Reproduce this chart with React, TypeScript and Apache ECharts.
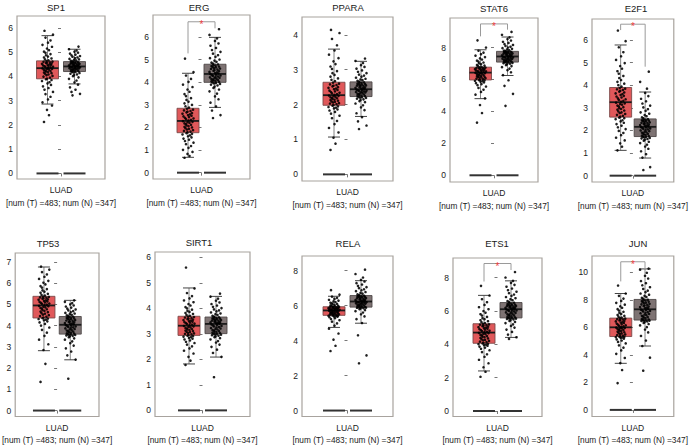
import React, { useEffect, useRef } from 'react';
import * as echarts from 'echarts';

// ---------- data ----------
const GENES = ['SP1', 'ERG', 'PPARA', 'STAT6', 'E2F1', 'TP53', 'SIRT1', 'RELA', 'ETS1', 'JUN'];
const GROUP_LABEL = 'LUAD';
const COUNT_LABEL = '[num (T) =483; num (N) =347]';

// [whisker low, Q1, median, Q3, whisker high]
const TUMOR_BOX = [
  [2.86, 3.9, 4.34, 4.64, 5.68],
  [0.68, 1.77, 2.29, 2.85, 4.4],
  [1.07, 1.98, 2.27, 2.64, 3.59],
  [4.8, 5.97, 6.43, 6.77, 7.86],
  [1.12, 2.59, 3.25, 3.9, 5.78],
  [2.82, 4.36, 4.95, 5.38, 6.76],
  [1.82, 2.94, 3.32, 3.69, 4.8],
  [4.75, 5.44, 5.72, 5.93, 6.53],
  [2.4, 4.06, 4.7, 5.23, 6.93],
  [3.39, 5.34, 6.01, 6.68, 8.47],
];
const NORMAL_BOX = [
  [3.69, 4.2, 4.41, 4.61, 5.12],
  [2.89, 4.0, 4.37, 4.8, 5.99],
  [1.66, 2.23, 2.44, 2.65, 3.24],
  [6.25, 7.09, 7.44, 7.76, 8.66],
  [0.78, 1.73, 2.16, 2.51, 3.7],
  [2.39, 3.6, 4.04, 4.43, 5.19],
  [2.09, 3.01, 3.39, 3.66, 4.47],
  [4.99, 5.91, 6.23, 6.57, 7.42],
  [4.41, 5.58, 6.1, 6.5, 7.8],
  [4.65, 6.54, 7.32, 8.04, 10.26],
];
const ZERO_BAR = [0, 0];

const SP1_T = [2.12, 2.4, 2.62, 2.8, 2.93, 3.05, 3.16, 3.27, 3.36, 3.45, 3.52, 3.59, 3.65, 3.71, 3.76, 3.81, 3.85, 3.88,
  3.91, 3.95, 3.99, 4.02, 4.05, 4.08, 4.11, 4.13, 4.16, 4.18, 4.2, 4.22, 4.24, 4.26, 4.28, 4.3, 4.31, 4.33,
  4.35, 4.37, 4.38, 4.4, 4.42, 4.43, 4.45, 4.47, 4.48, 4.5, 4.52, 4.53, 4.55, 4.57, 4.58, 4.6, 4.61, 4.63,
  4.66, 4.7, 4.74, 4.78, 4.82, 4.87, 4.92, 4.97, 5.02, 5.08, 5.15, 5.22, 5.3, 5.39, 5.48, 5.6, 5.72, 5.88];
const SP1_N = [3.22, 3.28, 3.36, 3.45, 3.55, 3.66, 3.75, 3.83, 3.9, 3.96, 4.01, 4.05, 4.08, 4.11, 4.14, 4.16, 4.18, 4.19,
  4.21, 4.22, 4.24, 4.25, 4.27, 4.28, 4.29, 4.31, 4.32, 4.33, 4.34, 4.35, 4.36, 4.37, 4.38, 4.39, 4.4, 4.4,
  4.42, 4.43, 4.44, 4.45, 4.46, 4.47, 4.48, 4.5, 4.51, 4.52, 4.53, 4.54, 4.55, 4.56, 4.57, 4.58, 4.59, 4.6,
  4.62, 4.64, 4.66, 4.68, 4.7, 4.72, 4.75, 4.78, 4.81, 4.84, 4.87, 4.9, 4.94, 4.98, 5.02, 5.07, 5.12, 5.23];
const ERG_T = [0.66, 0.74, 0.83, 0.92, 1.01, 1.1, 1.18, 1.26, 1.33, 1.4, 1.46, 1.51, 1.56, 1.61, 1.65, 1.69, 1.72, 1.75,
  1.79, 1.82, 1.85, 1.88, 1.91, 1.94, 1.97, 2.0, 2.03, 2.06, 2.09, 2.12, 2.15, 2.18, 2.21, 2.23, 2.25, 2.28,
  2.31, 2.34, 2.37, 2.4, 2.43, 2.46, 2.49, 2.52, 2.55, 2.58, 2.61, 2.64, 2.67, 2.7, 2.73, 2.76, 2.79, 2.83,
  2.88, 2.94, 3.0, 3.07, 3.14, 3.22, 3.3, 3.39, 3.48, 3.58, 3.68, 3.79, 3.9, 4.02, 4.15, 4.3, 4.45, 5.05];
const ERG_N = [2.42, 2.55, 2.75, 2.93, 3.1, 3.25, 3.38, 3.5, 3.6, 3.68, 3.75, 3.81, 3.86, 3.9, 3.93, 3.95, 3.97, 3.99,
  4.02, 4.04, 4.06, 4.08, 4.1, 4.12, 4.14, 4.16, 4.18, 4.2, 4.22, 4.24, 4.26, 4.28, 4.3, 4.32, 4.34, 4.36,
  4.39, 4.41, 4.44, 4.46, 4.49, 4.51, 4.54, 4.56, 4.59, 4.61, 4.63, 4.66, 4.68, 4.7, 4.72, 4.74, 4.76, 4.79,
  4.83, 4.87, 4.91, 4.96, 5.01, 5.07, 5.13, 5.2, 5.27, 5.35, 5.43, 5.52, 5.62, 5.72, 5.83, 5.94, 6.1, 6.35];
const PPARA_T = [0.7, 0.88, 1.05, 1.2, 1.33, 1.44, 1.53, 1.61, 1.68, 1.74, 1.79, 1.83, 1.86, 1.89, 1.91, 1.93, 1.95, 1.97,
  1.99, 2.01, 2.03, 2.04, 2.06, 2.08, 2.09, 2.11, 2.13, 2.14, 2.16, 2.18, 2.19, 2.21, 2.22, 2.24, 2.25, 2.26,
  2.28, 2.3, 2.32, 2.34, 2.36, 2.38, 2.4, 2.42, 2.44, 2.46, 2.48, 2.5, 2.52, 2.54, 2.56, 2.58, 2.6, 2.63,
  2.67, 2.71, 2.75, 2.8, 2.85, 2.9, 2.96, 3.02, 3.09, 3.16, 3.24, 3.33, 3.43, 3.55, 3.7, 3.88, 4.05, 4.14];
const PPARA_N = [1.3, 1.4, 1.52, 1.64, 1.75, 1.84, 1.92, 1.98, 2.03, 2.07, 2.1, 2.13, 2.15, 2.17, 2.19, 2.2, 2.21, 2.22,
  2.24, 2.25, 2.26, 2.28, 2.29, 2.3, 2.31, 2.33, 2.34, 2.35, 2.36, 2.37, 2.38, 2.39, 2.4, 2.41, 2.42, 2.43,
  2.45, 2.46, 2.47, 2.48, 2.49, 2.5, 2.52, 2.53, 2.54, 2.55, 2.56, 2.57, 2.58, 2.59, 2.6, 2.62, 2.63, 2.64,
  2.66, 2.68, 2.7, 2.72, 2.74, 2.77, 2.8, 2.83, 2.86, 2.9, 2.94, 2.98, 3.03, 3.08, 3.13, 3.19, 3.25, 3.32];
const STAT6_T = [3.3, 3.9, 4.4, 4.82, 5.05, 5.22, 5.36, 5.47, 5.56, 5.64, 5.71, 5.77, 5.82, 5.86, 5.89, 5.92, 5.94, 5.96,
  5.99, 6.02, 6.05, 6.08, 6.11, 6.13, 6.16, 6.18, 6.21, 6.23, 6.26, 6.28, 6.31, 6.33, 6.36, 6.38, 6.4, 6.42,
  6.45, 6.47, 6.49, 6.51, 6.53, 6.55, 6.57, 6.59, 6.61, 6.63, 6.65, 6.67, 6.69, 6.7, 6.72, 6.73, 6.75, 6.76,
  6.79, 6.83, 6.87, 6.91, 6.96, 7.01, 7.06, 7.12, 7.18, 7.25, 7.32, 7.4, 7.49, 7.58, 7.68, 7.8, 8.0, 8.45];
const STAT6_N = [4.35, 5.1, 5.6, 5.95, 6.27, 6.45, 6.58, 6.68, 6.77, 6.84, 6.9, 6.95, 6.99, 7.02, 7.04, 7.06, 7.07, 7.08,
  7.1, 7.12, 7.14, 7.16, 7.18, 7.2, 7.22, 7.24, 7.26, 7.28, 7.3, 7.32, 7.34, 7.36, 7.38, 7.4, 7.41, 7.43,
  7.45, 7.47, 7.49, 7.51, 7.53, 7.55, 7.57, 7.59, 7.61, 7.63, 7.65, 7.67, 7.68, 7.7, 7.71, 7.73, 7.74, 7.75,
  7.78, 7.81, 7.84, 7.88, 7.92, 7.96, 8.0, 8.05, 8.1, 8.16, 8.22, 8.29, 8.36, 8.44, 8.53, 8.64, 8.8, 8.98];
const E2F1_T = [1.12, 1.28, 1.43, 1.56, 1.68, 1.79, 1.89, 1.98, 2.06, 2.14, 2.21, 2.28, 2.34, 2.4, 2.45, 2.5, 2.54, 2.57,
  2.61, 2.65, 2.69, 2.73, 2.77, 2.8, 2.84, 2.88, 2.92, 2.95, 2.99, 3.03, 3.06, 3.1, 3.14, 3.17, 3.2, 3.23,
  3.27, 3.31, 3.35, 3.38, 3.42, 3.46, 3.5, 3.53, 3.57, 3.61, 3.64, 3.68, 3.72, 3.75, 3.79, 3.82, 3.85, 3.88,
  3.94, 4.0, 4.07, 4.15, 4.23, 4.32, 4.41, 4.51, 4.62, 4.73, 4.85, 4.98, 5.12, 5.28, 5.46, 5.68, 5.95, 6.42];
const E2F1_N = [0.25, 0.38, 0.8, 0.95, 1.08, 1.19, 1.29, 1.37, 1.44, 1.5, 1.55, 1.59, 1.62, 1.65, 1.67, 1.69, 1.71, 1.72,
  1.75, 1.77, 1.8, 1.82, 1.85, 1.87, 1.9, 1.92, 1.95, 1.97, 2.0, 2.02, 2.05, 2.07, 2.09, 2.11, 2.13, 2.15,
  2.18, 2.2, 2.22, 2.24, 2.26, 2.28, 2.3, 2.32, 2.34, 2.36, 2.38, 2.4, 2.42, 2.44, 2.45, 2.47, 2.48, 2.5,
  2.54, 2.58, 2.63, 2.68, 2.74, 2.8, 2.87, 2.94, 3.02, 3.1, 3.19, 3.29, 3.4, 3.52, 3.66, 3.85, 4.15, 4.6];
const TP53_T = [1.35, 2.2, 2.85, 3.12, 3.34, 3.52, 3.67, 3.8, 3.91, 4.0, 4.08, 4.15, 4.2, 4.25, 4.28, 4.31, 4.33, 4.35,
  4.38, 4.42, 4.45, 4.49, 4.52, 4.56, 4.59, 4.63, 4.66, 4.7, 4.73, 4.77, 4.8, 4.83, 4.86, 4.89, 4.91, 4.93,
  4.97, 4.99, 5.02, 5.04, 5.07, 5.09, 5.12, 5.14, 5.17, 5.19, 5.22, 5.24, 5.27, 5.29, 5.31, 5.33, 5.35, 5.37,
  5.41, 5.45, 5.5, 5.55, 5.6, 5.66, 5.72, 5.79, 5.86, 5.94, 6.02, 6.11, 6.2, 6.3, 6.41, 6.52, 6.64, 6.78];
const TP53_N = [1.5, 2.4, 2.6, 2.78, 2.93, 3.06, 3.17, 3.26, 3.34, 3.4, 3.45, 3.49, 3.52, 3.54, 3.56, 3.57, 3.58, 3.59,
  3.62, 3.64, 3.67, 3.69, 3.72, 3.74, 3.77, 3.79, 3.82, 3.84, 3.87, 3.89, 3.92, 3.94, 3.96, 3.98, 4.0, 4.02,
  4.06, 4.08, 4.1, 4.12, 4.15, 4.17, 4.19, 4.21, 4.24, 4.26, 4.28, 4.3, 4.32, 4.34, 4.36, 4.38, 4.4, 4.42,
  4.45, 4.48, 4.51, 4.54, 4.57, 4.6, 4.64, 4.68, 4.72, 4.76, 4.8, 4.85, 4.9, 4.95, 5.0, 5.06, 5.12, 5.19];
const SIRT1_T = [1.78, 1.95, 2.1, 2.23, 2.34, 2.43, 2.51, 2.58, 2.64, 2.69, 2.74, 2.78, 2.81, 2.84, 2.87, 2.89, 2.91, 2.93,
  2.96, 2.98, 3.0, 3.02, 3.04, 3.07, 3.09, 3.11, 3.13, 3.15, 3.17, 3.19, 3.21, 3.23, 3.25, 3.27, 3.29, 3.31,
  3.34, 3.36, 3.38, 3.4, 3.42, 3.44, 3.46, 3.48, 3.5, 3.52, 3.54, 3.56, 3.58, 3.6, 3.62, 3.64, 3.66, 3.68,
  3.71, 3.74, 3.78, 3.82, 3.86, 3.9, 3.95, 4.0, 4.05, 4.11, 4.17, 4.24, 4.31, 4.39, 4.48, 4.6, 4.78, 5.6];
const SIRT1_N = [1.3, 2.1, 2.25, 2.38, 2.49, 2.58, 2.66, 2.72, 2.78, 2.83, 2.87, 2.9, 2.93, 2.95, 2.97, 2.98, 2.99, 3.0,
  3.03, 3.05, 3.07, 3.09, 3.11, 3.13, 3.15, 3.17, 3.19, 3.21, 3.23, 3.25, 3.27, 3.29, 3.31, 3.33, 3.35, 3.37,
  3.4, 3.42, 3.43, 3.45, 3.46, 3.48, 3.49, 3.51, 3.52, 3.54, 3.55, 3.57, 3.58, 3.6, 3.61, 3.62, 3.64, 3.65,
  3.68, 3.71, 3.74, 3.77, 3.8, 3.84, 3.88, 3.92, 3.96, 4.01, 4.06, 4.11, 4.17, 4.23, 4.3, 4.38, 4.46, 4.58];
const RELA_T = [3.4, 3.7, 4.05, 4.4, 4.68, 4.85, 4.98, 5.08, 5.16, 5.23, 5.28, 5.33, 5.36, 5.38, 5.4, 5.41, 5.42, 5.43,
  5.45, 5.47, 5.48, 5.5, 5.51, 5.53, 5.54, 5.56, 5.57, 5.59, 5.6, 5.62, 5.63, 5.65, 5.66, 5.68, 5.69, 5.71,
  5.73, 5.74, 5.75, 5.76, 5.78, 5.79, 5.8, 5.81, 5.83, 5.84, 5.85, 5.86, 5.88, 5.89, 5.9, 5.91, 5.92, 5.93,
  5.95, 5.97, 5.99, 6.01, 6.04, 6.07, 6.1, 6.13, 6.16, 6.2, 6.24, 6.28, 6.33, 6.38, 6.44, 6.51, 6.62, 6.88];
const RELA_N = [2.7, 3.15, 4.3, 5.0, 5.22, 5.38, 5.5, 5.6, 5.68, 5.74, 5.79, 5.83, 5.85, 5.87, 5.88, 5.89, 5.9, 5.9,
  5.93, 5.95, 5.97, 5.99, 6.01, 6.03, 6.05, 6.07, 6.09, 6.11, 6.13, 6.15, 6.16, 6.18, 6.19, 6.2, 6.21, 6.22,
  6.25, 6.27, 6.29, 6.31, 6.33, 6.35, 6.37, 6.39, 6.41, 6.43, 6.45, 6.47, 6.49, 6.5, 6.52, 6.53, 6.55, 6.56,
  6.6, 6.64, 6.68, 6.72, 6.77, 6.82, 6.87, 6.93, 6.99, 7.05, 7.12, 7.2, 7.28, 7.37, 7.47, 7.6, 7.8, 8.05];
const ETS1_T = [2.05, 2.35, 2.62, 2.86, 3.07, 3.25, 3.4, 3.53, 3.64, 3.73, 3.8, 3.86, 3.91, 3.95, 3.98, 4.01, 4.03, 4.05,
  4.09, 4.13, 4.16, 4.2, 4.24, 4.27, 4.31, 4.35, 4.38, 4.42, 4.46, 4.49, 4.53, 4.56, 4.6, 4.63, 4.66, 4.68,
  4.72, 4.75, 4.78, 4.81, 4.84, 4.87, 4.9, 4.93, 4.96, 4.99, 5.02, 5.05, 5.08, 5.11, 5.14, 5.17, 5.19, 5.22,
  5.27, 5.32, 5.38, 5.44, 5.5, 5.57, 5.64, 5.72, 5.8, 5.89, 5.99, 6.1, 6.22, 6.36, 6.52, 6.7, 6.92, 7.5];
const ETS1_N = [4.32, 4.42, 4.58, 4.74, 4.88, 5.0, 5.1, 5.19, 5.27, 5.34, 5.4, 5.45, 5.49, 5.52, 5.54, 5.55, 5.56, 5.57,
  5.61, 5.64, 5.67, 5.7, 5.73, 5.76, 5.79, 5.82, 5.85, 5.88, 5.91, 5.94, 5.97, 6.0, 6.02, 6.04, 6.06, 6.08,
  6.12, 6.14, 6.16, 6.18, 6.2, 6.22, 6.24, 6.26, 6.28, 6.3, 6.32, 6.34, 6.36, 6.38, 6.4, 6.43, 6.46, 6.49,
  6.54, 6.59, 6.64, 6.7, 6.76, 6.83, 6.9, 6.98, 7.06, 7.15, 7.24, 7.34, 7.45, 7.56, 7.68, 7.8, 8.0, 8.33];
const JUN_T = [1.95, 2.9, 3.4, 3.78, 4.08, 4.33, 4.53, 4.7, 4.84, 4.95, 5.05, 5.13, 5.19, 5.24, 5.27, 5.3, 5.32, 5.33,
  5.37, 5.41, 5.45, 5.49, 5.53, 5.57, 5.61, 5.65, 5.69, 5.73, 5.77, 5.81, 5.85, 5.88, 5.92, 5.95, 5.97, 5.99,
  6.04, 6.08, 6.12, 6.16, 6.2, 6.24, 6.28, 6.32, 6.36, 6.4, 6.44, 6.48, 6.51, 6.55, 6.58, 6.61, 6.64, 6.67,
  6.72, 6.78, 6.84, 6.91, 6.98, 7.06, 7.14, 7.23, 7.33, 7.43, 7.54, 7.66, 7.79, 7.93, 8.1, 8.3, 8.47, 9.05];
const JUN_N = [2.85, 3.8, 4.65, 5.05, 5.38, 5.64, 5.85, 6.02, 6.15, 6.25, 6.33, 6.39, 6.44, 6.47, 6.5, 6.51, 6.52, 6.53,
  6.58, 6.62, 6.67, 6.71, 6.76, 6.8, 6.85, 6.89, 6.94, 6.98, 7.03, 7.07, 7.12, 7.16, 7.2, 7.24, 7.27, 7.3,
  7.36, 7.4, 7.44, 7.48, 7.52, 7.56, 7.6, 7.64, 7.68, 7.72, 7.76, 7.8, 7.84, 7.88, 7.92, 7.96, 7.99, 8.02,
  8.09, 8.15, 8.22, 8.3, 8.38, 8.47, 8.57, 8.68, 8.8, 8.93, 9.07, 9.22, 9.38, 9.56, 9.76, 9.98, 10.2, 10.28];

const TUMOR_POINTS = [SP1_T, ERG_T, PPARA_T, STAT6_T, E2F1_T, TP53_T, SIRT1_T, RELA_T, ETS1_T, JUN_T];
const NORMAL_POINTS = [SP1_N, ERG_N, PPARA_N, STAT6_N, E2F1_N, TP53_N, SIRT1_N, RELA_N, ETS1_N, JUN_N];

const Y_TICKS = [
  [0, 1, 2, 3, 4, 5, 6],
  [0, 1, 2, 3, 4, 5, 6],
  [0, 1, 2, 3, 4],
  [0, 2, 4, 6, 8],
  [0, 1, 2, 3, 4, 5, 6],
  [0, 1, 2, 3, 4, 5, 6, 7],
  [0, 1, 2, 3, 4, 5, 6],
  [0, 2, 4, 6, 8],
  [0, 2, 4, 6, 8],
  [0, 2, 4, 6, 8, 10],
];

// significance brackets: [left leg end, right leg end, bar level] (null = none)
const BRACKETS = [
  null,
  [5.28, 6.39, 6.68],
  null,
  [8.7, 9.12, 9.48],
  [6.44, 4.82, 6.7],
  null,
  null,
  null,
  [7.76, 8.45, 8.84],
  [9.35, 10.19, 10.78],
];

// ---------- layout / style ----------
const PANELS = [
  { left: 17, top: 16, width: 88, height: 163, yMin: -0.23, yMax: 6.49, titleX: 56, titleY: 7 },
  { left: 153, top: 15, width: 97, height: 164, yMin: -0.28, yMax: 6.98, titleX: 199, titleY: 7 },
  { left: 302, top: 17, width: 91, height: 164, yMin: -0.19, yMax: 4.51, titleX: 348, titleY: 7 },
  { left: 450, top: 18, width: 88, height: 164, yMin: -0.42, yMax: 9.85, titleX: 494, titleY: 8 },
  { left: 592, top: 19, width: 90, height: 163, yMin: -0.28, yMax: 6.93, titleX: 636, titleY: 8 },
  { left: 13, top: 253, width: 86, height: 164, yMin: -0.28, yMax: 7.42, titleX: 48, titleY: 243 },
  { left: 155, top: 252, width: 95, height: 165, yMin: -0.24, yMax: 6.21, titleX: 199, titleY: 242 },
  { left: 302, top: 256, width: 91, height: 162, yMin: -0.34, yMax: 8.83, titleX: 348, titleY: 243 },
  { left: 453, top: 258, width: 89, height: 162, yMin: -0.33, yMax: 9.17, titleX: 497, titleY: 243 },
  { left: 592, top: 256, width: 91, height: 163, yMin: -0.48, yMax: 11.2, titleX: 638, titleY: 243 },
];
const PX_PER_UNIT = 27; // tumor at -0.5, normal at +0.5
const GROUP_X = [-0.5, 0.5];
const JITTER_PX = [-3.5, 1.5, -0.5, 4.5, -5, 0.5, 3, -2, 5.5, -3, 1, -4.5, 3.5, 0, 2, -5.5, 4, -1.5, -0.5, 2.5, -4, 5, -1, 1, -2.5, 4, -3.5, 0.5, -1.5, 3, -2];
const BOX_COLORS = ['#E0585A', '#7E7373'];
const BOX_BORDER = ['#7a4a4a', '#4f4848'];
const FONT = '"Liberation Sans", Arial, Helvetica, sans-serif';
const TEXT_COLOR = '#1a1a1a';

function buildOption() {
  const grid: any[] = [];
  const xAxis: any[] = [];
  const yAxis: any[] = [];
  const series: any[] = [];
  const graphic: any[] = [];

  PANELS.forEach((p, i) => {
    const half = p.width / 2 / PX_PER_UNIT;
    grid.push({
      left: p.left, top: p.top, width: p.width, height: p.height,
      show: true, borderColor: '#A8A39E', borderWidth: 1.2, backgroundColor: 'transparent',
    });
    xAxis.push({
      gridIndex: i, type: 'value', min: -half, max: half,
      axisLine: { show: false }, splitLine: { show: false },
      axisLabel: { show: false },
      axisTick: { show: true, length: 3, customValues: [0], lineStyle: { color: '#777' } },
      name: `{a|${GROUP_LABEL}}\n{b|${COUNT_LABEL}}`,
      nameLocation: 'middle', nameGap: 5,
      nameTextStyle: {
        rich: {
          a: { fontSize: 8.5, fontFamily: FONT, color: TEXT_COLOR, lineHeight: 12 },
          b: { fontSize: 8.3, fontFamily: FONT, color: TEXT_COLOR, lineHeight: 13 },
        },
      },
    });
    yAxis.push({
      gridIndex: i, type: 'value', min: p.yMin, max: p.yMax,
      axisLine: { show: false }, splitLine: { show: false },
      axisTick: { show: true, length: 3, customValues: Y_TICKS[i], lineStyle: { color: '#777' } },
      axisLabel: {
        show: true, customValues: Y_TICKS[i], fontSize: 8.5, fontFamily: FONT,
        color: TEXT_COLOR, margin: 4,
      },
    });

    // boxes
    series.push({
      type: 'custom', xAxisIndex: i, yAxisIndex: i, z: 2, silent: true,
      data: GROUP_X.map((gx, g) => [gx, ...(g === 0 ? TUMOR_BOX[i] : NORMAL_BOX[i])]),
      renderItem: (params: any, api: any) => {
        const gx = api.value(0);
        const v = [1, 2, 3, 4, 5].map((k) => api.value(k));
        const cx = api.coord([gx, v[2]])[0];
        const y = (val: number) => api.coord([gx, val])[1];
        const g = params.dataIndex;
        const hw = 11;
        const cap = 6;
        return {
          type: 'group',
          children: [
            { type: 'line', shape: { x1: cx, y1: y(v[0]), x2: cx, y2: y(v[1]) }, style: { stroke: '#666', lineWidth: 0.8 } },
            { type: 'line', shape: { x1: cx, y1: y(v[3]), x2: cx, y2: y(v[4]) }, style: { stroke: '#666', lineWidth: 0.8 } },
            { type: 'line', shape: { x1: cx - cap, y1: y(v[0]), x2: cx + cap, y2: y(v[0]) }, style: { stroke: '#444', lineWidth: 1 } },
            { type: 'line', shape: { x1: cx - cap, y1: y(v[4]), x2: cx + cap, y2: y(v[4]) }, style: { stroke: '#444', lineWidth: 1 } },
            {
              type: 'rect',
              shape: { x: cx - hw, y: y(v[3]), width: hw * 2, height: y(v[1]) - y(v[3]) },
              style: { fill: BOX_COLORS[g], stroke: BOX_BORDER[g], lineWidth: 0.9 },
            },
            { type: 'line', shape: { x1: cx - hw, y1: y(v[2]), x2: cx + hw, y2: y(v[2]) }, style: { stroke: '#1a1a1a', lineWidth: 1.8 } },
          ],
        };
      },
    });

    // zero bars
    series.push({
      type: 'custom', xAxisIndex: i, yAxisIndex: i, z: 2, silent: true,
      data: GROUP_X.map((gx, g) => [gx, ZERO_BAR[g]]),
      renderItem: (_params: any, api: any) => {
        const pt = api.coord([api.value(0), api.value(1)]);
        return {
          type: 'line',
          shape: { x1: pt[0] - 11, y1: pt[1], x2: pt[0] + 11, y2: pt[1] },
          style: { stroke: '#333', lineWidth: 2 },
        };
      },
    });

    // jittered points
    [TUMOR_POINTS[i], NORMAL_POINTS[i]].forEach((vals, g) => {
      series.push({
        type: 'scatter', xAxisIndex: i, yAxisIndex: i, z: 3, silent: true,
        symbol: 'circle', symbolSize: 2.6,
        itemStyle: { color: '#000', opacity: 0.88 },
        data: vals.map((val, k) => [GROUP_X[g] + JITTER_PX[(k + g * 7) % JITTER_PX.length] / PX_PER_UNIT, val]),
      });
    });

    // significance bracket
    const b = BRACKETS[i];
    if (b) {
      series.push({
        type: 'custom', xAxisIndex: i, yAxisIndex: i, z: 4, silent: true,
        data: [[GROUP_X[0], b[0], GROUP_X[1], b[1], b[2]]],
        renderItem: (_params: any, api: any) => {
          const pL = api.coord([api.value(0), api.value(1)]);
          const pR = api.coord([api.value(2), api.value(3)]);
          const yT = api.coord([api.value(0), api.value(4)])[1];
          return {
            type: 'group',
            children: [
              {
                type: 'polyline',
                shape: { points: [[pL[0], pL[1]], [pL[0], yT], [pR[0], yT], [pR[0], pR[1]]] },
                style: { stroke: '#9a9a9a', lineWidth: 1, fill: null },
              },
              {
                type: 'text', x: (pL[0] + pR[0]) / 2, y: yT + 2.5,
                style: { text: '*', fill: '#EE3B3B', fontSize: 10, fontFamily: FONT, align: 'center', verticalAlign: 'middle' },
              },
            ],
          };
        },
      });
    }

    graphic.push({
      type: 'text', x: p.titleX, y: p.titleY, silent: true,
      style: { text: GENES[i], fill: TEXT_COLOR, fontSize: 9.5, fontFamily: FONT, align: 'center', verticalAlign: 'middle' },
    });
  });

  return {
    animation: false,
    backgroundColor: '#ffffff',
    grid, xAxis, yAxis, series, graphic,
  };
}

export default function App() {
  const ref = useRef<HTMLDivElement>(null);
  useEffect(() => {
    document.body.style.margin = '0';
    if (!ref.current) return;
    const chart = echarts.init(ref.current, null, { renderer: 'svg' });
    chart.setOption(buildOption());
    return () => chart.dispose();
  }, []);
  return (
    <div
      ref={ref}
      style={{ position: 'fixed', left: 0, top: 0, width: 690, height: 445, background: '#fff' }}
    />
  );
}
